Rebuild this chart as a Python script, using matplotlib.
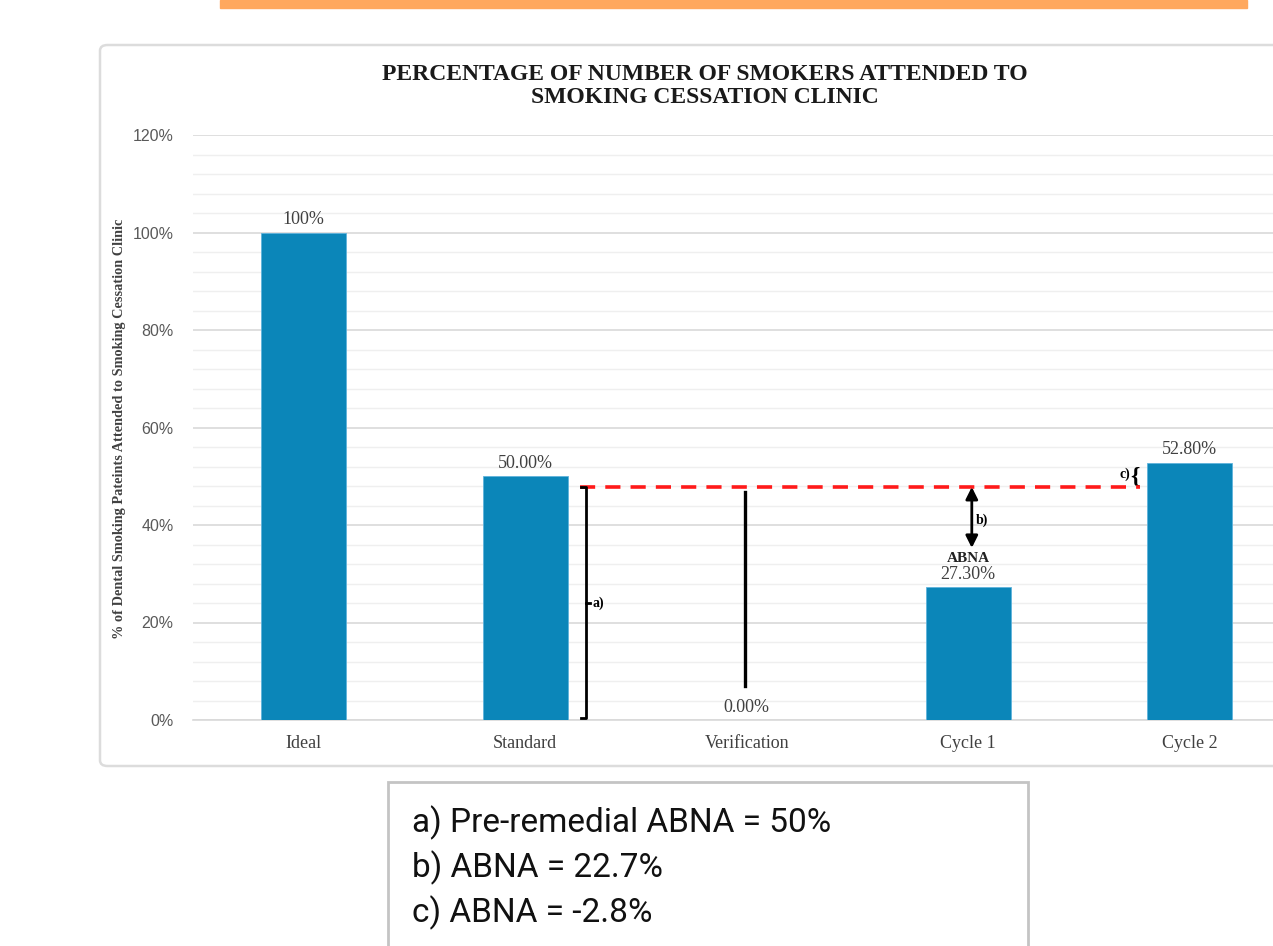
import matplotlib.pyplot as plt
from matplotlib.patches import Rectangle, FancyBboxPatch
from matplotlib.ticker import MultipleLocator, FuncFormatter

categories = ['Ideal', 'Standard', 'Verification', 'Cycle 1', 'Cycle 2']
values = [100, 50.0, 0.0, 27.3, 52.8]
value_labels = ['100%', '50.00%', '0.00%', '27.30%', '52.80%']
target_line = 47.8
notes = ['a) Pre-remedial ABNA = 50%', 'b) ABNA = 22.7%', 'c) ABNA = -2.8%']

bar_color = '#0b86b9'
serif = ['Liberation Serif', 'DejaVu Serif']
narrow = ['Liberation Sans Narrow', 'Roboto', 'DejaVu Sans']

fig = plt.figure(figsize=(12.73, 9.46), dpi=100)

# orange strip at the top and the card behind the chart
fig.patches.append(Rectangle((220 / 1273, 1 - 8 / 946), 1027 / 1273, 8 / 946,
                             transform=fig.transFigure, color='#ffa85e', zorder=0))
fig.patches.append(FancyBboxPatch((100 / 1273, 1 - 766 / 946), 1200 / 1273, 721 / 946,
                                  boxstyle='round,pad=0,rounding_size=0.006',
                                  transform=fig.transFigure, facecolor='white',
                                  edgecolor='#dcdcdc', lw=1.8, zorder=0))

ax = fig.add_axes([193 / 1273, 1 - 720 / 946, 1107.5 / 1273, 585 / 946], zorder=2)
ax.set_facecolor('none')
x = list(range(len(categories)))
ax.bar(x, values, width=0.385, color=bar_color, edgecolor='#5fb3dc', lw=0.6, zorder=3)

for xi, v, lab in zip(x, values, value_labels):
    ax.annotate(lab, (xi, v), xytext=(0, 3), textcoords='offset points',
                ha='center', va='bottom', fontsize=13, family=serif, color='#404040')

ax.set_xlim(-0.5, 4.5)
ax.set_ylim(0, 120)
ax.yaxis.set_major_locator(MultipleLocator(20))
ax.yaxis.set_minor_locator(MultipleLocator(4))
ax.yaxis.set_major_formatter(FuncFormatter(lambda v, p: f'{v:.0f}%'))
ax.grid(axis='y', which='major', color='#d9d9d9', lw=1.2, zorder=0)
ax.grid(axis='y', which='minor', color='#efefef', lw=1.0, zorder=0)
for s in ['top', 'right', 'left']:
    ax.spines[s].set_visible(False)
ax.spines['bottom'].set_color('#d9d9d9')
ax.spines['bottom'].set_linewidth(1.2)
ax.tick_params(axis='both', which='both', length=0)
ax.tick_params(axis='y', pad=14, labelsize=11.5, labelcolor='#595959')
ax.tick_params(axis='x', pad=11)
ax.set_xticks(x)
ax.set_xticklabels(categories, family=serif, fontsize=13, color='#404040')
for t in ax.get_yticklabels():
    t.set_family(['Liberation Sans', 'DejaVu Sans'])

# red dashed reference line
ax.plot([1.246, 3.774], [target_line, target_line], color='#ff1a1a', lw=2.6,
        dashes=(4.2, 2.8), zorder=5)

# bracket a)
bx = 1.273
ax.plot([bx - 0.02, bx, bx, bx - 0.02], [target_line, target_line, 0.4, 0.4],
        color='black', lw=2, zorder=5)
ax.plot([bx, bx + 0.02], [target_line / 2, target_line / 2], color='black', lw=2, zorder=5)
ax.text(bx + 0.03, target_line / 2, 'a)', fontsize=10, fontweight='bold', family=serif,
        va='center', ha='left')

# verification line
ax.plot([1.991, 1.991], [7.0, 46.8], color='black', lw=2.4, zorder=5)

# arrow b)
ax.annotate('', xy=(3.016, 35.3), xytext=(3.016, target_line),
            arrowprops=dict(arrowstyle='<|-|>', color='black', lw=2,
                            mutation_scale=18, shrinkA=0, shrinkB=0), zorder=5)
ax.text(3.035, 41.0, 'b)', fontsize=10, fontweight='bold', family=serif,
        va='center', ha='left')
ax.text(3.0, 33.2, 'ABNA', fontsize=11, fontweight='bold', family=serif,
        va='center', ha='center', color='#222222')

# brace c)
ax.text(3.752, 49.8, '{', fontsize=17, fontweight='bold', family=serif,
        va='center', ha='center')
ax.text(3.733, 50.4, 'c)', fontsize=10, fontweight='bold', family=serif,
        va='center', ha='right')

fig.text(705 / 1273, 1 - 86 / 946,
         'PERCENTAGE OF NUMBER OF SMOKERS ATTENDED TO\nSMOKING CESSATION CLINIC',
         ha='center', va='center', fontsize=17, fontweight='bold', family=serif,
         linespacing=1.12, color='#1a1a1a')
fig.text(120 / 1273, 1 - 429 / 946,
         '% of Dental Smoking Pateints Attended to Smoking Cessation Clinic',
         rotation=90, ha='center', va='center', fontsize=10.3, fontweight='bold',
         family=serif, color='#404040')

# notes box
fig.patches.append(Rectangle((388 / 1273, -0.02), 640 / 1273, 1 - 782 / 946 + 0.02,
                             transform=fig.transFigure, facecolor='white',
                             edgecolor='#c4c4c4', lw=2))
for i, n in enumerate(notes):
    fig.text(412 / 1273, 1 - (832 + 45 * i) / 946, n, ha='left', va='baseline',
             fontsize=24, family=narrow, color='#111111')

fig.savefig('out.png', dpi=100)
